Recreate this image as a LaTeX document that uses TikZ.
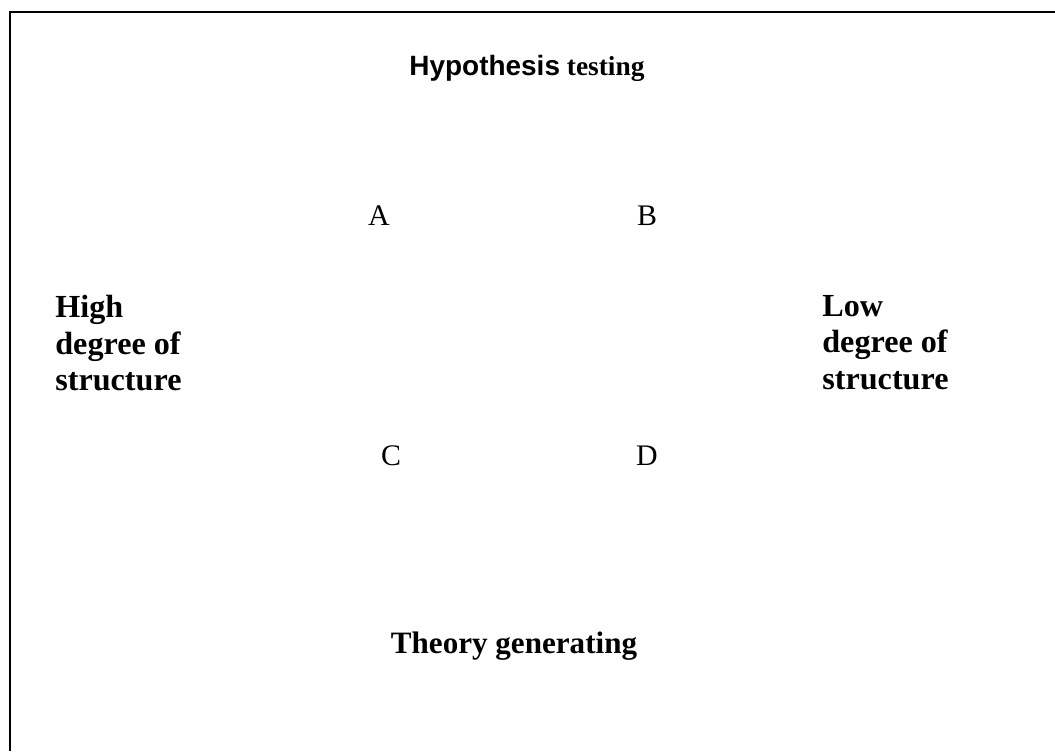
\documentclass[tikz,border=0pt]{standalone}
\usepackage{fontspec}
\setmainfont{Liberation Serif}
\newfontfamily\arialfont{Liberation Sans}
\usepackage{tikz}
\tikzset{
  axislabel/.style={font=\fontsize{17.7}{20.8}\selectfont\bfseries, inner sep=0pt},
  sidelabel/.style={font=\fontsize{18.3}{20.8}\selectfont\bfseries, inner sep=0pt, align=left, anchor=north west},
  cornerlabel/.style={font=\fontsize{17}{20}\selectfont, inner sep=0pt, anchor=base},
  frameline/.style={line width=1.3pt}
}

\begin{document}
\begin{tikzpicture}[x=0.02cm, y=-0.02cm]
\useasboundingbox (0,0) rectangle (1055,751);
\coordinate (framebl) at (10,751);
\coordinate (frametr) at (1055,12);
\draw[frameline] (framebl) |- (frametr);
% axis ends
\node[axislabel, font=\fontsize{15.6}{18}\selectfont\bfseries, anchor=base] (hyp) at (527,75) {{\arialfont\fontsize{15.9}{18}\selectfont Hypothesis} testing};
\node[axislabel, anchor=base] (theory) at (514,653) {Theory generating};
\node[sidelabel] (high) at (55,295) {High\\degree of\\structure};
\node[sidelabel] (low) at (822,295) {Low\\degree of\\structure};
% quadrants
\node[cornerlabel] (a) at (379,225) {A};
\node[cornerlabel] (b) at (647,225) {B};
\node[cornerlabel] (c) at (391,465) {C};
\node[cornerlabel] (d) at (647,465) {D};
\end{tikzpicture}
\end{document}
